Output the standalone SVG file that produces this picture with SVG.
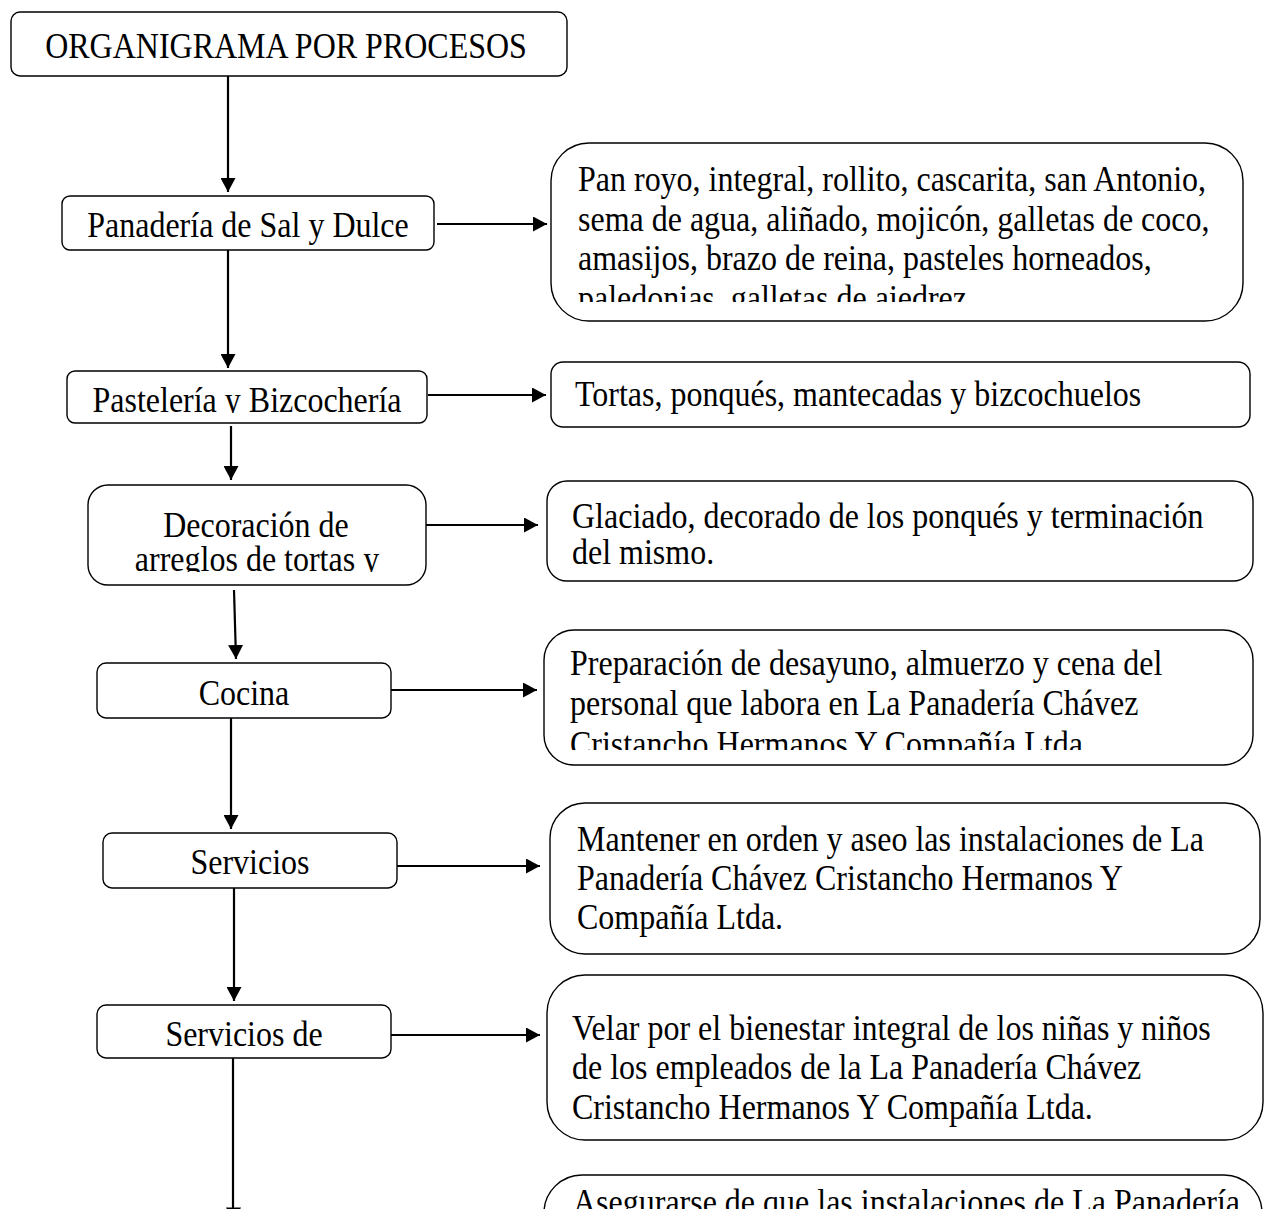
<svg xmlns="http://www.w3.org/2000/svg" width="1266" height="1209" viewBox="0 0 1266 1209">
<style>
.box{fill:#fff;stroke:#000;stroke-width:1.4}
.t{font-family:"Liberation Serif","Times New Roman",serif;font-size:32px;fill:#000}
.c{text-anchor:middle}
.ln{fill:none;stroke:#000;stroke-width:2.2}
</style>
<defs>
<marker id="ah" markerUnits="userSpaceOnUse" markerWidth="15" markerHeight="15" refX="14" refY="7.5" orient="auto">
<path d="M0,0 L14,7.5 L0,15 z" fill="#000"/>
</marker>
<clipPath id="cpPan"><rect x="62" y="196" width="372" height="51"/></clipPath>
<clipPath id="cpPas"><rect x="67" y="371" width="360" height="42"/></clipPath>
<clipPath id="cpDec"><rect x="88" y="485" width="337" height="87"/></clipPath>
<clipPath id="cpR1"><rect x="551" y="143" width="692" height="159"/></clipPath>
<clipPath id="cpR4"><rect x="544" y="630" width="709" height="120"/></clipPath>
</defs>
<g id="connectors">
<path class="ln" d="M228,76 V192" marker-end="url(#ah)"/>
<path class="ln" d="M437,224 H547" marker-end="url(#ah)"/>
<path class="ln" d="M228,250 V368" marker-end="url(#ah)"/>
<path class="ln" d="M428,395 H546" marker-end="url(#ah)"/>
<path class="ln" d="M231,426 V480" marker-end="url(#ah)"/>
<path class="ln" d="M426,525 H538" marker-end="url(#ah)"/>
<path class="ln" d="M234,590 L236,659" marker-end="url(#ah)"/>
<path class="ln" d="M391,690 H537" marker-end="url(#ah)"/>
<path class="ln" d="M231,718 V829" marker-end="url(#ah)"/>
<path class="ln" d="M397,866 H540" marker-end="url(#ah)"/>
<path class="ln" d="M234,888 V1001" marker-end="url(#ah)"/>
<path class="ln" d="M391,1035 H540" marker-end="url(#ah)"/>
<path class="ln" d="M233,1058 V1209"/>
<path d="M226,1207.5 H241 L233.5,1222 z" fill="#000"/>
</g>
<g id="n-title">
<rect class="box" x="11" y="12" width="556" height="64" rx="9"/>
<text class="t c" transform="translate(286 58) scale(1 1.15)">ORGANIGRAMA POR PROCESOS</text>
</g>
<g id="n-panaderia">
<rect class="box" x="62" y="196" width="372" height="54" rx="8"/>
<g clip-path="url(#cpPan)"><text class="t c" transform="translate(248 237) scale(1 1.15)">Panadería de Sal y Dulce</text></g>
</g>
<g id="n-pasteleria">
<rect class="box" x="67" y="371" width="360" height="52" rx="8"/>
<g clip-path="url(#cpPas)"><text class="t c" transform="translate(247 412) scale(1 1.15)">Pastelería y Bizcochería</text></g>
</g>
<g id="n-decoracion">
<rect class="box" x="88" y="485" width="338" height="100" rx="20"/>
<g clip-path="url(#cpDec)">
<text class="t c" transform="translate(256 537) scale(1 1.15)">Decoración de</text>
<text class="t c" transform="translate(257 571) scale(1 1.15)">arreglos de tortas y</text>
</g>
</g>
<g id="n-cocina">
<rect class="box" x="97" y="663" width="294" height="55" rx="9"/>
<text class="t c" transform="translate(244 705) scale(1 1.15)">Cocina</text>
</g>
<g id="n-servicios">
<rect class="box" x="103" y="833" width="294" height="55" rx="9"/>
<text class="t c" transform="translate(250 874) scale(1 1.15)">Servicios</text>
</g>
<g id="n-servicios-de">
<rect class="box" x="97" y="1005" width="294" height="53" rx="9"/>
<text class="t c" transform="translate(244 1046) scale(1 1.15)">Servicios de</text>
</g>
<g id="d-panaderia">
<rect class="box" x="551" y="143" width="692" height="178" rx="38"/>
<g clip-path="url(#cpR1)">
<text class="t" transform="translate(578 191) scale(1 1.15)">Pan royo, integral, rollito, cascarita, san Antonio,</text>
<text class="t" transform="translate(578 230.5) scale(1 1.15)">sema de agua, aliñado, mojicón, galletas de coco,</text>
<text class="t" transform="translate(578 270) scale(1 1.15)">amasijos, brazo de reina, pasteles horneados,</text>
<text class="t" transform="translate(578 309.5) scale(1 1.15)">paledonias, galletas de ajedrez.</text>
</g>
</g>
<g id="d-pasteleria">
<rect class="box" x="551" y="362" width="699" height="65" rx="12"/>
<text class="t" transform="translate(575 406) scale(1 1.15)">Tortas, ponqués, mantecadas y bizcochuelos</text>
</g>
<g id="d-decoracion">
<rect class="box" x="547" y="481" width="706" height="100" rx="20"/>
<text class="t" transform="translate(572 528) scale(1 1.15)">Glaciado, decorado de los ponqués y terminación</text>
<text class="t" transform="translate(572 564) scale(1 1.15)">del mismo.</text>
</g>
<g id="d-cocina">
<rect class="box" x="544" y="630" width="709" height="135" rx="30"/>
<g clip-path="url(#cpR4)">
<text class="t" transform="translate(570 675) scale(1 1.15)">Preparación de desayuno, almuerzo y cena del</text>
<text class="t" transform="translate(570 715) scale(1 1.15)">personal que labora en La Panadería Chávez</text>
<text class="t" transform="translate(570 756) scale(1 1.15)">Cristancho Hermanos Y Compañía Ltda.</text>
</g>
</g>
<g id="d-servicios">
<rect class="box" x="550" y="803" width="710" height="151" rx="35"/>
<text class="t" transform="translate(577 851) scale(1 1.15)">Mantener en orden y aseo las instalaciones de La</text>
<text class="t" transform="translate(577 890) scale(1 1.15)">Panadería Chávez Cristancho Hermanos Y</text>
<text class="t" transform="translate(577 929) scale(1 1.15)">Compañía Ltda.</text>
</g>
<g id="d-servicios-de">
<rect class="box" x="547" y="975" width="716" height="165" rx="38"/>
<text class="t" transform="translate(572 1040) scale(1 1.15)">Velar por el bienestar integral de los niñas y niños</text>
<text class="t" transform="translate(572 1079) scale(1 1.15)">de los empleados de la La Panadería Chávez</text>
<text class="t" transform="translate(572 1119) scale(1 1.15)">Cristancho Hermanos Y Compañía Ltda.</text>
</g>
<g id="d-ultimo">
<rect class="box" x="544" y="1175" width="718" height="100" rx="38"/>
<text class="t" transform="translate(573 1214) scale(1 1.15)">Asegurarse de que las instalaciones de La Panadería</text>
</g>
</svg>
